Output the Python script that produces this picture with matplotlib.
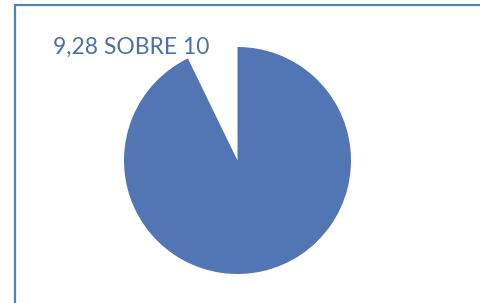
import matplotlib.pyplot as plt
from matplotlib.patches import Rectangle

# dades
valors = [9.28, 10 - 9.28]
colors = ['#5275b3', 'none']
etiqueta = "9,28 SOBRE 10"

fig = plt.figure(figsize=(4.81, 3.03), dpi=100)

# marc del gràfic (només es veuen dalt i esquerra)
fig.patches.append(Rectangle((15.5 / 481, -0.1), 1.2, (303 - 4.5) / 303 + 0.1,
                             transform=fig.transFigure, fill=False,
                             edgecolor='#4a86ae', linewidth=1.6))

# pastís
ax = fig.add_axes([(237.5 - 113.5) / 481, (303 - 160.5 - 113.5) / 303,
                   227 / 481, 227 / 303])
ax.pie(valors, colors=colors, startangle=90, counterclock=False,
       radius=1, wedgeprops={'linewidth': 0})
ax.set_xlim(-1, 1)
ax.set_ylim(-1, 1)
ax.set_aspect('auto')
ax.axis('off')

# etiqueta
fig.text(53 / 481, 1 - 47 / 303, etiqueta, color='#4f6fa8',
         fontsize=16.5, family='Lato', va='center', ha='left')

plt.savefig("out.png", dpi=100)
